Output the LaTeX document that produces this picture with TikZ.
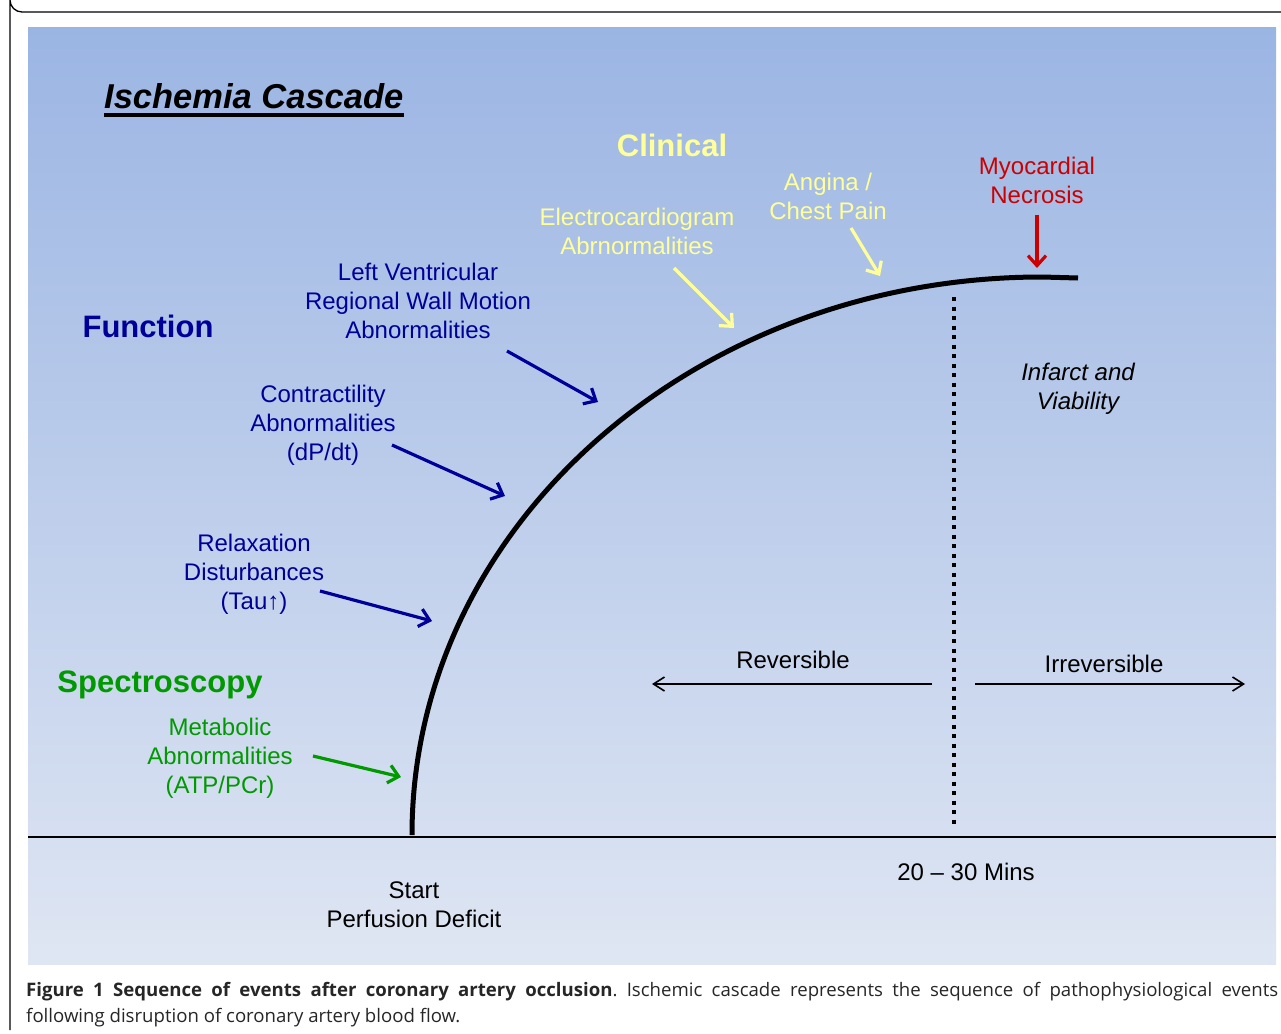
\documentclass[tikz,border=0pt]{standalone}
\usepackage{fontspec}
\setmainfont{Liberation Sans}
\newfontfamily\capfont{Open Sans}
\usetikzlibrary{arrows.meta}

\definecolor{fnblue}{RGB}{0,0,153}
\definecolor{clinyellow}{RGB}{255,255,153}
\definecolor{specgreen}{RGB}{0,153,0}
\definecolor{necred}{RGB}{204,0,0}
\definecolor{bgtop}{RGB}{155,181,227}
\definecolor{bgbottom}{RGB}{223,230,243}

\tikzset{
  lbl/.style={font=\fontsize{24}{29}\selectfont, align=center, inner sep=0pt},
  heading/.style={font=\fontsize{31}{37}\selectfont\bfseries, inner sep=0pt, anchor=base},
  pointer/.style={line width=3.2pt, -{Straight Barb[length=10pt,width=18pt]}},
  span/.style={line width=1.6pt, -{Straight Barb[length=11pt,width=14pt]}},
}

\begin{document}
\frenchspacing
\begin{tikzpicture}[x=1pt,y=-1pt]
\useasboundingbox (0,0) rectangle (1281,1033);

% page frame
\draw[line width=1.3pt] (1281,12) -- (22,12) arc[start angle=90, end angle=180, radius=12] -- (10,1030);

% shaded panel
\shade[top color=bgtop, bottom color=bgbottom] (28,28) rectangle (1276,964);

% time axis
\draw[line width=2pt] (28,837) -- (1276,837);

% cascade curve
\draw[line width=5pt] (412,835) arc[start angle=180, end angle=270, x radius=630, y radius=558] -- (1078,278);

% 20-30 minute boundary
\draw[line width=4pt, dash pattern=on 4pt off 5.5pt] (954,297) -- (954,828);

% title
\node[font=\fontsize{34.5}{40}\selectfont\bfseries\itshape, inner sep=0pt, anchor=base west] (title) at (104,108) {Ischemia Cascade};
\draw[line width=3.2pt] ([yshift=-7pt]title.base west) -- ([yshift=-7pt]title.base east);

% group headings
\node[heading, text=clinyellow] (clinical) at (672,156) {Clinical};
\node[heading, text=fnblue] (function) at (148,337) {Function};
\node[heading, text=specgreen] (spectro) at (160,692) {Spectroscopy};

% events
\node[lbl, text=necred] (necrosis) at (1037,180) {Myocardial\\Necrosis};
\node[lbl, text=clinyellow] (angina) at (828,196) {Angina /\\Chest Pain};
\node[lbl, text=clinyellow] (ecg) at (637,231) {Electrocardiogram\\Abrnormalities};
\node[lbl, text=fnblue] (lvwall) at (418,301) {Left Ventricular\\Regional Wall Motion\\Abnormalities};
\node[lbl, text=fnblue] (contract) at (323,425) {Contractility\\Abnormalities\\(dP/dt)};
\node[lbl, text=fnblue] (relax) at (254,574) {Relaxation\\Disturbances\\(Tau↑)};
\node[lbl, text=specgreen] (metab) at (220,758) {Metabolic\\Abnormalities\\(ATP/PCr)};

\node[lbl, font=\fontsize{24}{29}\selectfont\itshape] (infarct) at (1078,389) {Infarct and\\Viability};
\node[lbl] (rev) at (793,660) {Reversible};
\node[lbl] (irrev) at (1104,664) {Irreversible};
\node[lbl] (mins) at (966,872) {20 – 30 Mins};
\node[lbl] (start) at (414,905) {Start\\Perfusion Deficit};

% arrow end points
\coordinate (necS) at (1037,215);  \coordinate (necT) at (1037,268);
\coordinate (angS) at (851,228);   \coordinate (angT) at (880,276);
\coordinate (ecgS) at (674,268);   \coordinate (ecgT) at (734,328);
\coordinate (lvS) at (507,351);    \coordinate (lvT) at (598,402);
\coordinate (conS) at (392,445);   \coordinate (conT) at (505,496);
\coordinate (relS) at (320,591);   \coordinate (relT) at (432,621);
\coordinate (metS) at (313,756);   \coordinate (metT) at (401,777);
\coordinate (revS) at (932,684);   \coordinate (revT) at (652,684);
\coordinate (irrS) at (975,684);   \coordinate (irrT) at (1245,684);

\draw[pointer, necred] (necS) -- (necT);
\draw[pointer, clinyellow] (angS) -- (angT);
\draw[pointer, clinyellow] (ecgS) -- (ecgT);
\draw[pointer, fnblue] (lvS) -- (lvT);
\draw[pointer, fnblue] (conS) -- (conT);
\draw[pointer, fnblue] (relS) -- (relT);
\draw[pointer, specgreen] (metS) -- (metT);
\draw[span] (revS) -- (revT);
\draw[span] (irrS) -- (irrT);

% caption
\node[anchor=north west, inner sep=0pt, text width=1252pt, align=justify,
      font=\capfont\fontsize{18.6}{26}\selectfont, text=black!85] (caption) at (26,982)
  {{\bfseries Figure 1 Sequence of events after coronary artery occlusion}. Ischemic cascade represents the sequence of pathophysiological events\linebreak following disruption of coronary artery blood flow.};
\end{tikzpicture}
\end{document}
